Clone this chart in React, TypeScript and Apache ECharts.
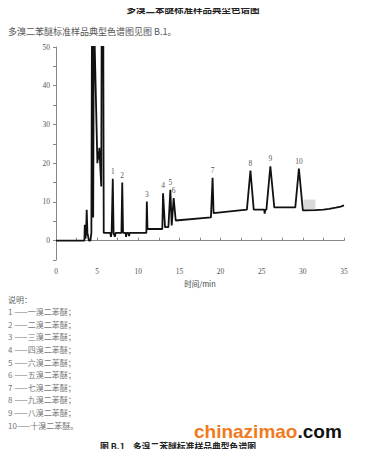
import React, { useEffect, useRef } from "react";
import * as echarts from "echarts";

const times = [
  0, 3.45, 3.5, 3.58, 3.66, 3.73, 3.82, 4.0, 4.18, 4.3, 4.4, 4.52, 4.6, 5.03, 5.12, 5.2, 5.27, 5.5, 5.58, 5.72, 5.8,
  6.6, 6.68, 6.76, 6.9, 7.0, 7.15, 7.25, 7.95, 8.05, 8.15, 8.45, 8.52, 8.6, 8.8, 8.88, 8.95,
  10.98, 11.04, 11.12, 12.92, 13.01, 13.25, 13.66, 13.9, 14.06, 14.3, 14.55, 18.83, 19.03, 19.15,
  22.3, 23.2, 23.63, 24.03, 25.3, 25.36, 25.45, 25.57, 26.05, 26.53, 29.08, 29.52, 30.0,
  31.5, 32.5, 33.2, 34.0, 34.6, 35.0,
];
const values = [
  0, 0, 4.1, 0.5, 2, 8, 2, 0, 0, 2, 80, 6, 60, 20, 23, 21, 24, 14, 80, 80, 2,
  2, 1, 2, 16, 2, 1, 2, 2, 15, 2, 2, 1, 2, 2, 1.2, 2,
  2, 10.1, 3, 3, 12.2, 3.5, 3.5, 13.1, 3.9, 11, 5.2, 6.0, 16.2, 7.1,
  7.8, 8.0, 18.1, 8.0, 8.0, 7.0, 8.0, 8.0, 19.2, 8.6, 8.6, 18.6, 7.8,
  7.9, 8.0, 8.2, 8.5, 8.8, 9.1,
];

const peakLabels = ["1", "2", "3", "4", "5", "6", "7", "8", "9", "10"];
const peakTimes = [6.9, 8.05, 11.04, 13.01, 13.9, 14.3, 19.03, 23.63, 26.05, 29.52];
const peakValues = [16, 15, 10.1, 12.2, 13.1, 11, 16.2, 18.1, 19.2, 18.6];

const yTicks = [-5, 50, 5];
const xTicks = [0, 35, 2.5];

const shadeRange = [30.08, 31.53, 7.6, 10.6];

const legendLines = [
  "1 ——一溴二苯醚；",
  "2 ——二溴二苯醚；",
  "3 ——三溴二苯醚；",
  "4 ——四溴二苯醚；",
  "5 ——六溴二苯醚；",
  "6 ——五溴二苯醚；",
  "7 ——七溴二苯醚；",
  "8 ——九溴二苯醚；",
  "9 ——八溴二苯醚；",
  "10——十溴二苯醚。",
];

const CJK = "'Noto Sans CJK SC', sans-serif";
const SERIF = "'Liberation Serif', serif";

export default function App() {
  const ref = useRef<HTMLDivElement>(null);
  useEffect(() => {
    if (!ref.current) return;
    const chart = echarts.init(ref.current, undefined, { renderer: "svg" });
    const lineData = times.map((t, i) => [t, values[i]]);
    const legendGraphics = legendLines.map((s, i) => ({
      type: "text",
      x: 8,
      y: 311.7 + i * 12.6,
      style: { text: s, font: `8px ${CJK}`, fill: "#777", textVerticalAlign: "middle" },
    }));
    chart.setOption({
      animation: false,
      backgroundColor: "#fff",
      grid: { left: 56, right: 22, top: 47, bottom: 197 },
      xAxis: {
        type: "value",
        min: xTicks[0],
        max: xTicks[1],
        interval: xTicks[2],
        name: "时间/min",
        nameLocation: "middle",
        nameGap: 20,
        nameTextStyle: { fontSize: 7.5, fontFamily: CJK, color: "#444" },
        axisLine: { lineStyle: { color: "#888", width: 1 } },
        axisTick: { inside: true, length: 3, lineStyle: { color: "#888" } },
        axisLabel: {
          fontSize: 7.5,
          fontFamily: SERIF,
          color: "#555",
          margin: 7,
          formatter: (v: number) => (v % 5 === 0 ? String(v) : ""),
        },
        splitLine: { show: false },
      },
      yAxis: {
        type: "value",
        min: yTicks[0],
        max: yTicks[1],
        interval: yTicks[2],
        axisLine: { show: true, lineStyle: { color: "#888", width: 1 } },
        axisTick: { show: true, length: 3, lineStyle: { color: "#888" } },
        axisLabel: {
          fontSize: 7.5,
          fontFamily: SERIF,
          color: "#555",
          margin: 6,
          formatter: (v: number) => (v % 10 === 0 ? String(v) : ""),
        },
        splitLine: { show: false },
      },
      series: [
        {
          type: "line",
          data: lineData,
          showSymbol: false,
          clip: true,
          lineStyle: { color: "#111", width: 1.8 },
          markArea: {
            silent: true,
            itemStyle: { color: "#d9d9d9" },
            data: [[{ coord: [shadeRange[0], shadeRange[2]] }, { coord: [shadeRange[1], shadeRange[3]] }]],
          },
          z: 3,
        },
        {
          type: "scatter",
          data: peakTimes.map((t, i) => ({ value: [t, peakValues[i]], name: peakLabels[i] })),
          symbolSize: 1,
          itemStyle: { color: "transparent" },
          label: {
            show: true,
            position: "top",
            distance: 3,
            formatter: (p: any) => p.name,
            fontSize: 7.5,
            fontFamily: SERIF,
            color: "#222",
          },
          z: 4,
        },
      ],
      graphic: [
        {
          type: "text",
          x: 193,
          y: 9,
          style: {
            text: "多溴二苯醚标准样品典型色谱图",
            font: `bold 9.5px ${CJK}`,
            fill: "#222",
            textAlign: "center",
            textVerticalAlign: "middle",
          },
        },
        {
          type: "text",
          x: 8,
          y: 31.5,
          style: {
            text: "多溴二苯醚标准样品典型色谱图见图 B.1。",
            font: `9px ${CJK}`,
            fill: "#555",
            textVerticalAlign: "middle",
          },
        },
        {
          type: "text",
          x: 8,
          y: 299.5,
          style: { text: "说明：", font: `8px ${CJK}`, fill: "#666", textVerticalAlign: "middle" },
        },
        ...legendGraphics,
        {
          type: "text",
          x: 194,
          y: 431,
          style: {
            text: "{a|chinazimao}{b|.com}",
            textVerticalAlign: "middle",
            rich: {
              a: { fontSize: 19, fontWeight: "bold", fontFamily: "'Liberation Sans', Arial, sans-serif", fill: "#f07a1e" },
              b: { fontSize: 19, fontWeight: "bold", fontFamily: "'Liberation Sans', Arial, sans-serif", fill: "#111" },
            },
          },
        },
        {
          type: "text",
          x: 100,
          y: 446.5,
          style: {
            text: "图 B.1    多溴二苯醚标准样品典型色谱图",
            font: `bold 8.8px ${CJK}`,
            fill: "#222",
            textVerticalAlign: "middle",
          },
        },
      ],
    });
    return () => chart.dispose();
  }, []);
  return <div ref={ref} style={{ width: 366, height: 457, margin: -8 }} />;
}
